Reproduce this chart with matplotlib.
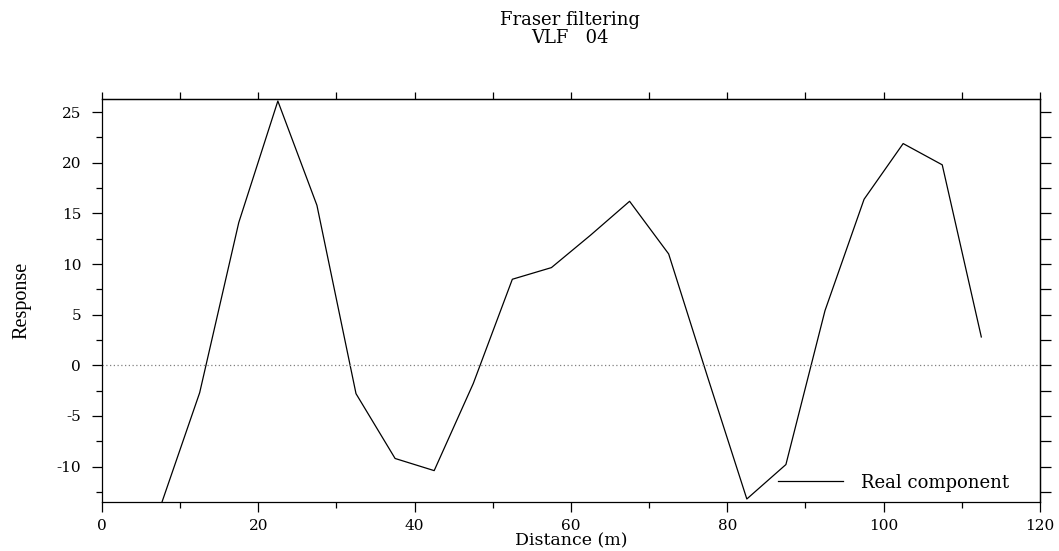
import matplotlib.pyplot as plt
from matplotlib.ticker import MultipleLocator, NullFormatter

plt.rcParams["axes.unicode_minus"] = False

# Fraser filtered VLF response along the profile (station spacing 5 m)
distance = [7.5, 12.5, 17.5, 22.5, 27.5, 32.5, 37.5, 42.5, 47.5, 52.5, 57.5,
            62.5, 67.5, 72.5, 77.5, 82.5, 87.5, 92.5, 97.5, 102.5, 107.5, 112.5]
real_comp = [-13.9, -2.7, 14.1, 26.1, 15.8, -2.8, -9.2, -10.4, -1.8, 8.5, 9.65,
             12.85, 16.2, 11.0, -1.2, -13.2, -9.8, 5.4, 16.4, 21.9, 19.8, 2.8]

fig = plt.figure(figsize=(10.59, 5.51), dpi=100)
ax = fig.add_axes([0.0963, 0.0889, 0.8857, 0.7314])

ax.plot(distance, real_comp, color="black", lw=0.9, label="Real component")
ax.axhline(0, color="#808080", lw=0.9, ls=(0, (1, 2)))

ax.set_xlim(0, 120)
ax.set_ylim(-13.5, 26.3)

# bottom / left axes: labelled major ticks, short minor ticks
ax.xaxis.set_major_locator(MultipleLocator(20))
ax.xaxis.set_minor_locator(MultipleLocator(10))
ax.yaxis.set_major_locator(MultipleLocator(5))
ax.yaxis.set_minor_locator(MultipleLocator(2.5))
ax.tick_params(which="major", direction="out", length=7, width=0.9,
               labelsize=11, colors="black")
ax.tick_params(axis="x", which="major", pad=5)
ax.tick_params(axis="y", which="major", pad=8)
ax.tick_params(which="minor", direction="out", length=4, width=0.9)
for lab in ax.get_xticklabels() + ax.get_yticklabels():
    lab.set_family("DejaVu Serif")

# top / right axes: plain ticks, no labels
top = ax.secondary_xaxis("top")
top.xaxis.set_major_locator(MultipleLocator(10))
top.xaxis.set_major_formatter(NullFormatter())
top.tick_params(direction="out", length=5, width=0.9)
right = ax.secondary_yaxis("right")
right.yaxis.set_major_locator(MultipleLocator(2.5))
right.yaxis.set_major_formatter(NullFormatter())
right.tick_params(direction="out", length=8, width=0.9)

for sp in list(ax.spines.values()) + [top.spines["top"], right.spines["right"]]:
    sp.set_linewidth(0.9)

ax.set_xlabel("Distance (m)", family="DejaVu Serif", fontsize=12.5, labelpad=0)
ax.set_ylabel("Response", family="Liberation Serif", fontsize=14.5, labelpad=18)

fig.text(0.5385, 0.9637, "Fraser filtering", ha="center", va="center",
         family="DejaVu Serif", fontsize=13)
fig.text(0.5385, 0.931, "VLF   04", ha="center", va="center",
         family="DejaVu Serif", fontsize=13)

ax.legend(loc="lower right", bbox_to_anchor=(0.985, -0.015), frameon=False,
          handlelength=3.6, handletextpad=1.0,
          prop={"family": "DejaVu Serif", "size": 13})

fig.savefig("out.png", dpi=100)
